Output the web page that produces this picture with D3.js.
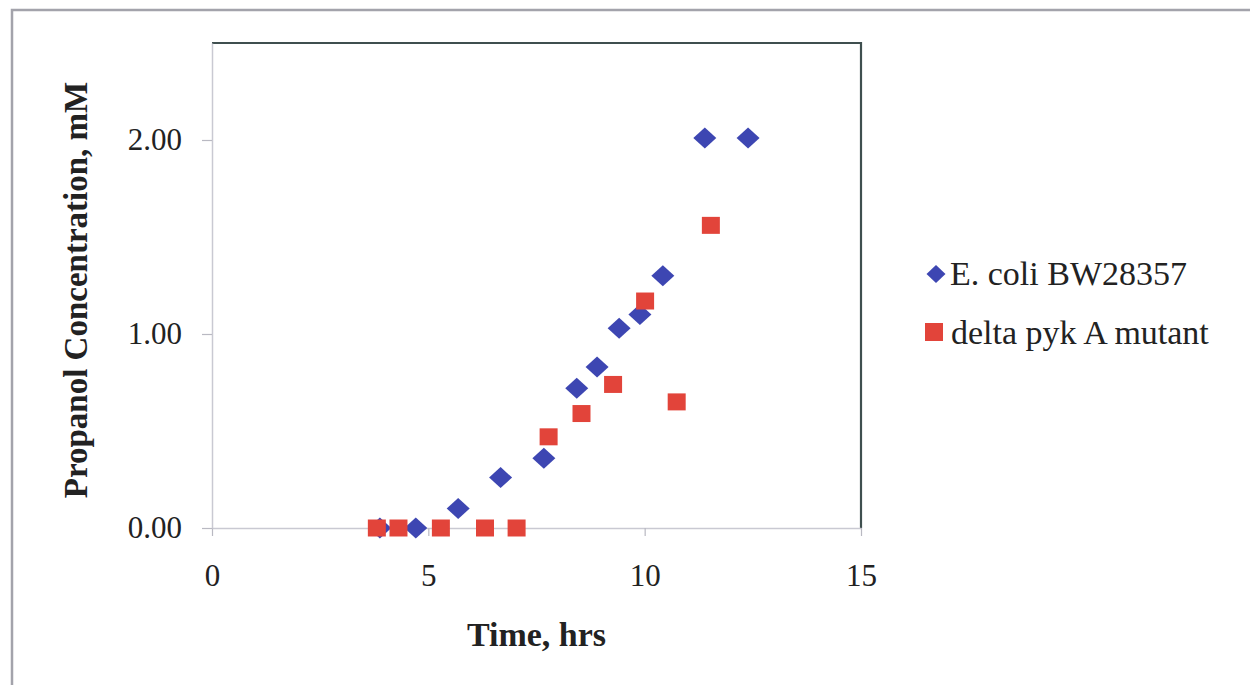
<!DOCTYPE html>
<html>
<head>
<meta charset="utf-8">
<script src="https://cdn.jsdelivr.net/npm/d3@7"></script>
<style>
  html, body { margin: 0; padding: 0; background: #ffffff; }
  svg { display: block; }
  text { font-family: "Liberation Serif", "Times New Roman", serif; fill: #222; }
</style>
</head>
<body>
<svg id="chart" width="1250" height="685"></svg>
<script>
// ---- data ----
const ecoliTime = [3.88, 4.71, 5.69, 6.67, 7.67, 8.43, 8.90, 9.41, 9.89, 10.42, 11.39, 12.39];
const ecoliConc = [0.00, 0.00, 0.10, 0.26, 0.36, 0.72, 0.83, 1.03, 1.10, 1.30, 2.01, 2.01];
const mutantTime = [3.81, 4.31, 5.29, 6.31, 7.04, 7.78, 8.54, 9.27, 10.01, 10.74, 11.53];
const mutantConc = [0.00, 0.00, 0.00, 0.00, 0.00, 0.47, 0.59, 0.74, 1.17, 0.65, 1.56];
const xTicks = [0, 5, 10, 15];
const yTicks = [0, 1, 2];
const seriesNames = ["E. coli BW28357", "delta pyk A mutant"];
const xTitle = "Time, hrs";
const yTitle = "Propanol Concentration, mM";

const blue = "#3d46b2";
const red = "#e2443a";

const svg = d3.select("#chart");
const plot = { left: 212, right: 861, top: 43, bottom: 528 };

const x = d3.scaleLinear().domain([0, 15]).range([plot.left, plot.right]);
const y = d3.scaleLinear().domain([0, 2.5]).range([plot.bottom, plot.top]);

// outer chart border (left + top)
svg.append("path")
  .attr("d", "M12,685 L12,10 L1250,10")
  .attr("fill", "none").attr("stroke", "#a3a3ab").attr("stroke-width", 2.5);

// plot frame: top and right darker
svg.append("path")
  .attr("d", `M${plot.left},${plot.top} L${plot.right},${plot.top} L${plot.right},${plot.bottom}`)
  .attr("fill", "none").attr("stroke", "#3f4f4f").attr("stroke-width", 2.2);

// axes
const xAxis = d3.axisBottom(x).tickValues(xTicks).tickFormat(d3.format("d"))
  .tickSizeInner(8).tickSizeOuter(0).tickPadding(28);
const gx = svg.append("g").attr("transform", `translate(0,${plot.bottom})`).call(xAxis);
gx.select(".domain").attr("stroke", "#c9c9d2").attr("stroke-width", 1.5);
gx.selectAll(".tick line").attr("stroke", "#b9b9c2").attr("stroke-width", 1.2);
gx.selectAll(".tick text").attr("font-size", 31).attr("fill", "#222")
  .attr("font-family", "Liberation Serif, serif");

const yAxis = d3.axisLeft(y).tickValues(yTicks).tickFormat(d3.format(".2f"))
  .tickSizeInner(10).tickSizeOuter(0).tickPadding(20);
const gy = svg.append("g").attr("transform", `translate(${plot.left},0)`).call(yAxis);
gy.select(".domain").attr("stroke", "#c9c9d2").attr("stroke-width", 1.5);
gy.selectAll(".tick line").attr("stroke", "#b9b9c2").attr("stroke-width", 1.2);
gy.selectAll(".tick text").attr("font-size", 31).attr("fill", "#222")
  .attr("font-family", "Liberation Serif, serif");

// axis titles
svg.append("text")
  .attr("x", (plot.left + plot.right) / 2).attr("y", 646)
  .attr("text-anchor", "middle").attr("font-size", 34).attr("font-weight", "bold")
  .text(xTitle);

svg.append("text")
  .attr("transform", `translate(87,290) rotate(-90)`)
  .attr("text-anchor", "middle").attr("font-size", 33).attr("font-weight", "bold")
  .text(yTitle);

// marker shapes
const diamondPath = (w, h) => `M0,${-h/2} L${w/2},0 L0,${h/2} L${-w/2},0 Z`;
const squarePath = (w, h) => `M${-w/2},${-h/2} h${w} v${h} h${-w} Z`;

const ecoli = ecoliTime.map((t, i) => ({ t, c: ecoliConc[i] }));
const mutant = mutantTime.map((t, i) => ({ t, c: mutantConc[i] }));

svg.append("g").selectAll("path").data(ecoli).join("path")
  .attr("d", diamondPath(23, 21))
  .attr("transform", d => `translate(${x(d.t)},${y(d.c)})`)
  .attr("fill", blue);

svg.append("g").selectAll("path").data(mutant).join("path")
  .attr("d", squarePath(18, 17))
  .attr("transform", d => `translate(${x(d.t)},${y(d.c)})`)
  .attr("fill", red);

// legend
const legend = svg.append("g");
legend.append("path").attr("d", diamondPath(19, 18))
  .attr("transform", "translate(936,274)").attr("fill", blue);
legend.append("text").attr("x", 950).attr("y", 285).attr("font-size", 34)
  .text(seriesNames[0]);
legend.append("path").attr("d", squarePath(18, 18))
  .attr("transform", "translate(934,332)").attr("fill", red);
legend.append("text").attr("x", 951).attr("y", 344).attr("font-size", 34)
  .text(seriesNames[1]);
</script>
</body>
</html>
